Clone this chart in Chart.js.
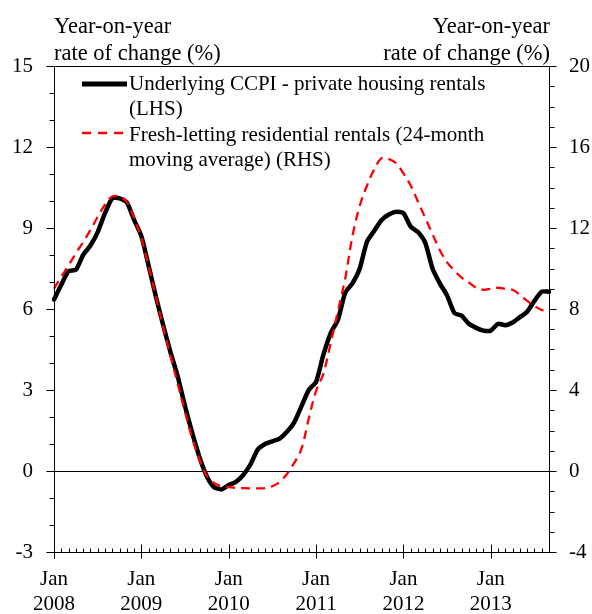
<!DOCTYPE html>
<html lang="en">
<head>
<meta charset="UTF-8">
<title>Private housing rentals</title>
<script src="https://cdn.jsdelivr.net/npm/chart.js"></script>
<style>
  html, body { margin: 0; padding: 0; background: #fff; }
  #wrap { position: relative; width: 592px; height: 614px; font-family: 'Liberation Serif', 'Times New Roman', serif; color: #000; }
  #wrap canvas { position: absolute; left: 0; top: 0; }
  .title { position: absolute; top: 12px; font-size: 22.5px; line-height: 27px; white-space: nowrap; }
  .title.left { left: 54px; }
  .title.right { right: 42px; text-align: right; }
  .lg-text { position: absolute; left: 129px; font-size: 21px; line-height: 25px; white-space: nowrap; }
  .lg-key { position: absolute; left: 80px; }
</style>
</head>
<body>
<div id="wrap">
  <canvas id="chart" width="592" height="614"></canvas>
  <div class="title left">Year-on-year<br>rate of change (%)</div>
  <div class="title right">Year-on-year<br>rate of change (%)</div>

  <svg class="lg-key" style="top:79px" width="50" height="10">
    <line x1="2" y1="5" x2="47" y2="5" stroke="#000" stroke-width="5"/>
  </svg>
  <div class="lg-text" style="top:71px">Underlying CCPI - private housing rentals<br>(LHS)</div>
  <svg class="lg-key" style="top:128px" width="50" height="10">
    <line x1="2" y1="5" x2="47" y2="5" stroke="#ff0000" stroke-width="2.3" stroke-dasharray="9 7"/>
  </svg>
  <div class="lg-text" style="top:122px">Fresh-letting residential rentals (24-month<br>moving average) (RHS)</div>
</div>

<script>
const years = ['2008', '2009', '2010', '2011', '2012', '2013'];
const monthNames = ['Jan', 'Feb', 'Mar', 'Apr', 'May', 'Jun', 'Jul', 'Aug', 'Sep', 'Oct', 'Nov', 'Dec'];
// monthly, Jan 2008 .. Sep 2013
const months = years.flatMap(y => monthNames.map(m => m + ' ' + y)).slice(0, 69);

// Underlying CCPI - private housing rentals, yoy % (LHS)
const ccpiRentals = [
  6.35, 6.9, 7.4, 7.45, 8.0, 8.35, 8.85, 9.55, 10.1, 10.1, 9.95, 9.3,
  8.7, 7.6, 6.45, 5.4, 4.4, 3.5, 2.4, 1.4, 0.5, -0.2, -0.6, -0.68,
  -0.52, -0.4, -0.15, 0.25, 0.8, 1.0, 1.1, 1.2, 1.45, 1.8, 2.4, 3.0,
  3.3, 4.3, 5.1, 5.6, 6.6, 6.95, 7.5, 8.5, 8.9, 9.3, 9.5, 9.6,
  9.55, 9.05, 8.85, 8.45, 7.5, 6.95, 6.5, 5.85, 5.75, 5.45, 5.3, 5.2,
  5.2, 5.45, 5.4, 5.5, 5.7, 5.9, 6.3, 6.64, 6.64
];

// Fresh-letting residential rentals, 24-month moving average, yoy % (RHS)
const freshLetting = [
  9.0, 9.6, 10.15, 10.75, 11.3, 11.9, 12.55, 13.15, 13.55, 13.55, 13.3, 12.5,
  11.5, 10.1, 8.6, 7.1, 5.7, 4.3, 2.9, 1.6, 0.55, -0.25, -0.6, -0.75,
  -0.8, -0.83, -0.85, -0.86, -0.86, -0.85, -0.75, -0.55, -0.15, 0.4, 1.1, 2.6,
  3.95, 4.8, 6.3, 7.9, 9.5, 11.6, 13.1, 14.1, 14.9, 15.45, 15.4, 15.2,
  14.7, 14.1, 13.3, 12.5, 11.7, 10.9, 10.3, 9.9, 9.55, 9.3, 9.05, 8.95,
  9.0, 9.05, 9.0, 8.95, 8.7, 8.4, 8.15, 7.95, 7.85
];

const leftRange = { min: -3, max: 15, step: 3 };
const rightRange = { min: -4, max: 20, step: 4 };

const serif = "'Liberation Serif', 'Times New Roman', serif";

// zero line under the series, box and tick marks on top
const axisDecor = {
  id: 'axisDecor',
  beforeDatasetsDraw(chart) {
    const { ctx, chartArea: a, scales } = chart;
    const y0 = Math.round(scales.y.getPixelForValue(0)) + 0.5;
    ctx.save();
    ctx.strokeStyle = '#000';
    ctx.lineWidth = 1;
    ctx.beginPath();
    ctx.moveTo(a.left, y0);
    ctx.lineTo(a.right, y0);
    ctx.stroke();
    ctx.restore();
  },
  afterDatasetsDraw(chart) {
    const { ctx, chartArea: a, scales } = chart;
    const L = Math.round(a.left) + 0.5, R = Math.round(a.right) + 0.5;
    const T = Math.round(a.top) + 0.5, B = Math.round(a.bottom) + 0.5;
    ctx.save();
    ctx.strokeStyle = '#000';
    ctx.lineWidth = 1;
    ctx.beginPath();
    ctx.moveTo(L, B + 6); ctx.lineTo(L, T); ctx.lineTo(R, T); ctx.lineTo(R, B); ctx.lineTo(L, B);
    // left axis ticks, outside
    for (let v = leftRange.min; v <= leftRange.max; v++) {
      const py = Math.round(scales.y.getPixelForValue(v)) + 0.5;
      const len = v % leftRange.step === 0 ? 8 : 5;
      ctx.moveTo(L - len, py); ctx.lineTo(L, py);
    }
    // right axis ticks, outside
    for (let v = rightRange.min; v <= rightRange.max; v++) {
      const py = Math.round(scales.y1.getPixelForValue(v)) + 0.5;
      const len = v % rightRange.step === 0 ? 7 : 5;
      ctx.moveTo(R, py); ctx.lineTo(R + len, py);
    }
    // monthly ticks, years cross the axis
    for (let i = 0; i < months.length; i++) {
      const px = Math.round(scales.x.getPixelForValue(i)) + 0.5;
      if (i % 12 === 0) { ctx.moveTo(px, B - 8); ctx.lineTo(px, B + 6); }
      else { ctx.moveTo(px, B - 4); ctx.lineTo(px, B); }
    }
    ctx.stroke();
    ctx.restore();
  }
};

new Chart(document.getElementById('chart'), {
  type: 'line',
  data: {
    labels: months,
    datasets: [
      {
        label: 'Underlying CCPI - private housing rentals (LHS)',
        data: ccpiRentals,
        yAxisID: 'y',
        borderColor: '#000',
        borderWidth: 4.5,
        borderJoinStyle: 'round',
        borderCapStyle: 'round',
        pointRadius: 0,
        tension: 0.2,
        order: 1
      },
      {
        label: 'Fresh-letting residential rentals (24-month moving average) (RHS)',
        data: freshLetting,
        yAxisID: 'y1',
        borderColor: '#ff0000',
        borderWidth: 2.3,
        borderDash: [9, 6],
        pointRadius: 0,
        tension: 0.35,
        order: 0
      }
    ]
  },
  options: {
    responsive: false,
    animation: false,
    layout: { padding: { top: 66, left: 0, right: 0, bottom: 0 } },
    plugins: { legend: { display: false }, tooltip: { enabled: false } },
    scales: {
      x: {
        type: 'category',
        offset: false,
        grid: { display: false, drawTicks: false },
        border: { display: false },
        ticks: {
          autoSkip: false,
          maxRotation: 0,
          padding: 15,
          color: '#000',
          font: { family: serif, size: 21, lineHeight: 25 / 21 },
          callback(value, index) {
            return index % 12 === 0 ? ['Jan', years[index / 12]] : '';
          }
        },
        afterFit(scale) { scale.height = 62; }
      },
      y: {
        position: 'left',
        min: leftRange.min,
        max: leftRange.max,
        grid: { display: false, drawTicks: false },
        border: { display: false },
        ticks: { stepSize: leftRange.step, padding: 21, color: '#000', font: { family: serif, size: 21 } },
        afterFit(scale) { scale.width = 54; }
      },
      y1: {
        position: 'right',
        min: rightRange.min,
        max: rightRange.max,
        grid: { display: false, drawTicks: false },
        border: { display: false },
        ticks: { stepSize: rightRange.step, padding: 20, color: '#000', font: { family: serif, size: 21 } },
        afterFit(scale) { scale.width = 43; }
      }
    }
  },
  plugins: [axisDecor]
});
</script>
</body>
</html>
